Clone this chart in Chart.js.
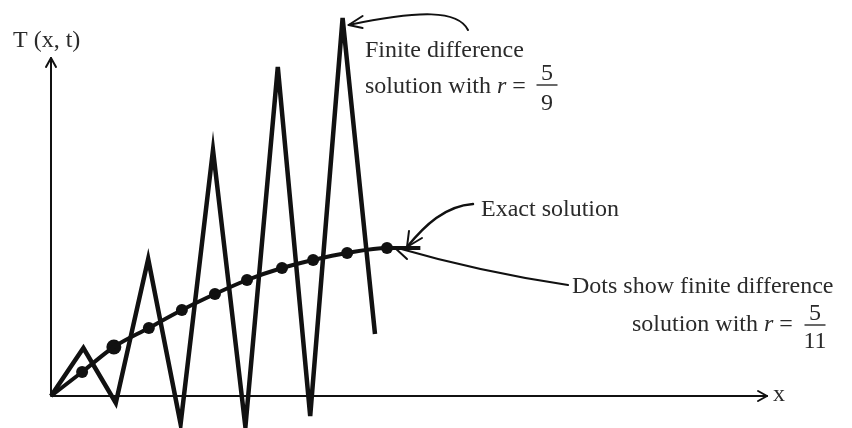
<!DOCTYPE html>
<html>
<head>
<meta charset="utf-8">
<script src="https://cdn.jsdelivr.net/npm/chart.js@4.4.1/dist/chart.umd.min.js"></script>
<style>
  html, body { margin: 0; padding: 0; background: #fff; }
  #wrap { width: 852px; height: 428px; }
</style>
</head>
<body>
<div id="wrap"><canvas id="grafico" width="852" height="428"></canvas></div>
<script>
// grid nodes and the oscillating solution (r = 5/9)
const nodeX = [0, 1, 2, 3, 4, 5, 6, 7, 8, 9, 10];
const unstableT = [0, 0.48, -0.07, 1.37, -0.28, 2.46, -0.31, 3.29, -0.20, 3.78, 0.62];

// stable solution (r = 5/11), drawn as dots
const dotX = [0.96, 1.94, 3.02, 4.04, 5.06, 6.05, 7.13, 8.09, 9.14, 10.37];
const dotT = [0.24, 0.49, 0.68, 0.86, 1.02, 1.16, 1.28, 1.36, 1.43, 1.48];

// exact solution curve
const exactX = [0, 0.96, 1.94, 3.02, 4.04, 5.06, 6.05, 7.13, 8.09, 9.14, 10.37, 11.4];
const exactT = [0, 0.24, 0.49, 0.68, 0.86, 1.02, 1.16, 1.28, 1.36, 1.43, 1.48, 1.48];

// axis extents
const xAxisEnd = 22.1;
const yAxisTop = 3.38;

const tinta = '#111';
const texto = '#2a2a2a';
const serif = '"Liberation Serif", "DejaVu Serif", serif';
const fonte = '24px ' + serif;

function pares(xs, ys) {
    return xs.map((x, i) => ({ x: x, y: ys[i] }));
}

function seta(ctx, tx, ty, pontas) {
    ctx.beginPath();
    pontas.forEach(p => {
        ctx.moveTo(tx, ty);
        ctx.lineTo(p[0], p[1]);
    });
    ctx.stroke();
}

function fracao(ctx, cx, barY, num, den, numY, denY) {
    ctx.font = fonte;
    ctx.textAlign = 'center';
    ctx.fillText(num, cx, numY);
    ctx.fillText(den, cx, denY);
    ctx.fillRect(cx - 10.5, barY - 0.7, 21, 1.4);
    ctx.textAlign = 'left';
}

function linhaR(ctx, x, y) {
    ctx.font = fonte;
    ctx.fillText('solution with ', x, y);
    let w = ctx.measureText('solution with ').width;
    ctx.font = 'italic ' + fonte;
    ctx.fillText('r', x + w, y);
    w += ctx.measureText('r').width;
    ctx.font = fonte;
    ctx.fillText(' =', x + w, y);
}

const eixos = {
    id: 'eixos',
    beforeDatasetsDraw(chart) {
        const ctx = chart.ctx;
        const sx = chart.scales.x, sy = chart.scales.y;
        const x0 = sx.getPixelForValue(0), y0 = sy.getPixelForValue(0);
        const xe = sx.getPixelForValue(xAxisEnd), yt = sy.getPixelForValue(yAxisTop);
        ctx.save();
        ctx.strokeStyle = tinta;
        ctx.lineWidth = 2;
        ctx.lineCap = 'round';
        ctx.beginPath();
        ctx.moveTo(x0, y0);
        ctx.lineTo(x0, yt);
        ctx.moveTo(x0, y0);
        ctx.lineTo(xe, y0);
        ctx.stroke();
        seta(ctx, x0, yt, [[x0 - 5, yt + 9], [x0 + 5, yt + 9]]);
        seta(ctx, xe, y0, [[xe - 9, y0 - 5], [xe - 9, y0 + 5]]);
        ctx.restore();
    },
    afterDatasetsDraw(chart) {
        const ctx = chart.ctx;
        const sx = chart.scales.x, sy = chart.scales.y;
        ctx.save();
        ctx.strokeStyle = tinta;
        ctx.lineWidth = 2;
        ctx.lineCap = 'round';

        // arrow to the tallest spike
        const px = sx.getPixelForValue(nodeX[9]) + 6;
        const py = sy.getPixelForValue(unstableT[9]) + 7;
        ctx.beginPath();
        ctx.moveTo(468, 30);
        ctx.bezierCurveTo(458, 10, 420, 10, px, py);
        ctx.stroke();
        seta(ctx, px, py, [[px + 14, py - 9], [px + 14, py + 3]]);

        // arrow to the exact curve
        const ex = sx.getPixelForValue(exactX[10]) + 20;
        const ey = sy.getPixelForValue(exactT[10]) - 1;
        ctx.lineWidth = 2.5;
        ctx.beginPath();
        ctx.moveTo(473, 204);
        ctx.bezierCurveTo(445, 206, 425, 225, ex, ey);
        ctx.stroke();
        ctx.lineWidth = 2;
        seta(ctx, ex, ey, [[ex + 2, ey - 16], [ex + 15, ey - 9]]);

        // arrow to the dots
        const dx = sx.getPixelForValue(dotX[9]) + 7;
        const dy = sy.getPixelForValue(dotT[9]) - 1;
        ctx.beginPath();
        ctx.moveTo(568, 285);
        ctx.quadraticCurveTo(480, 272, dx, dy);
        ctx.stroke();
        seta(ctx, dx, dy, [[dx + 13, dy + 12]]);

        // labels
        ctx.fillStyle = texto;
        ctx.font = fonte;
        ctx.textBaseline = 'alphabetic';
        ctx.fillText('T (x, t)', 13, 47);
        ctx.fillText('x', 773, 401);
        ctx.fillText('Finite difference', 365, 57);
        linhaR(ctx, 365, 93);
        fracao(ctx, 547, 85, '5', '9', 80, 110);
        ctx.font = fonte;
        ctx.fillText('Exact solution', 481, 216);
        ctx.fillText('Dots show finite difference', 572, 293);
        linhaR(ctx, 632, 331);
        fracao(ctx, 815, 325, '5', '11', 320, 348);
        ctx.restore();
    }
};

var grafico = new Chart(document.getElementById('grafico'), {
    type: 'scatter',
    data: {
        datasets: [{
            label: 'r = 5/9',
            data: pares(nodeX, unstableT),
            showLine: true,
            borderColor: tinta,
            borderWidth: 4.5,
            borderJoinStyle: 'miter',
            pointRadius: 0,
            tension: 0
        }, {
            label: 'Exact solution',
            data: pares(exactX, exactT),
            showLine: true,
            borderColor: tinta,
            borderWidth: 4,
            pointRadius: 0,
            cubicInterpolationMode: 'monotone'
        }, {
            label: 'r = 5/11',
            data: pares(dotX, dotT),
            showLine: false,
            backgroundColor: tinta,
            borderColor: tinta,
            borderWidth: 0,
            pointRadius: ctx => ctx.dataIndex === 1 ? 7.5 : 6
        }]
    },
    options: {
        responsive: false,
        animation: false,
        devicePixelRatio: 1,
        clip: false,
        layout: { padding: 0, autoPadding: false },
        plugins: {
            legend: { display: false },
            tooltip: { enabled: false }
        },
        scales: {
            x: { type: 'linear', display: false, min: -1.574, max: 24.722 },
            y: { type: 'linear', display: false, min: -0.32, max: 3.96 }
        }
    },
    plugins: [eixos]
});
</script>
</body>
</html>
